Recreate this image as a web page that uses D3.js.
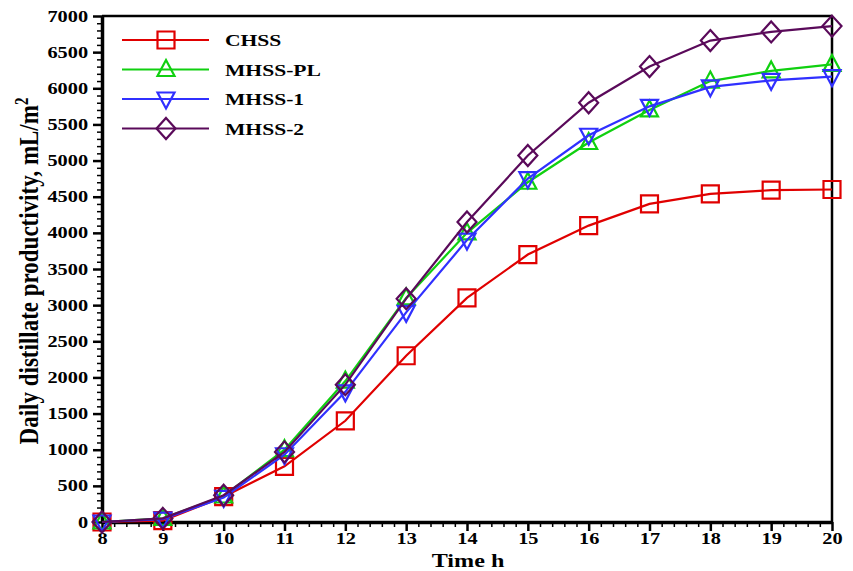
<!DOCTYPE html>
<html><head><meta charset="utf-8">
<script src="https://cdn.jsdelivr.net/npm/d3@7"></script>
<style>body{margin:0;background:#fff}svg{display:block}text{font-family:"Liberation Serif","Times New Roman",serif;font-weight:bold}</style>
</head><body><svg id="c" width="853" height="571"></svg>
<script>
const hours = [8,9,10,11,12,13,14,15,16,17,18,19,20];
const chss   = [0,20,350,770,1400,2300,3100,3700,4100,4400,4540,4590,4600];
const mhssPL = [0,50,360,1000,1950,3100,4000,4700,5250,5700,6100,6240,6330];
const mhss1  = [0,40,340,930,1800,2900,3900,4750,5350,5750,6020,6110,6160];
const mhss2  = [0,50,370,970,1900,3090,4150,5070,5800,6300,6660,6780,6860];
const seriesNames = ["CHSS","MHSS-PL","MHSS-1","MHSS-2"];
const seriesColors = ["#e00000","#10d010","#3030ff","#5a0a5a"];
const seriesShapes = ["square","triangle","invtriangle","diamond"];
const xTicks = [8,9,10,11,12,13,14,15,16,17,18,19,20];
const yTicks = [0,500,1000,1500,2000,2500,3000,3500,4000,4500,5000,5500,6000,6500,7000];

const series = [chss, mhssPL, mhss1, mhss2].map((v,i)=>({name:seriesNames[i],color:seriesColors[i],shape:seriesShapes[i],values:v}));
const svg = d3.select("#c");
const L=102,R=832,T=16,B=522;
const SX = 1.27;
const x = d3.scaleLinear().domain([8,20]).range([L,R]);
const y = d3.scaleLinear().domain([0,7000]).range([B,T]);

// minor ticks
const xMinor = d3.range(8,20.001,0.2).filter(v=>Math.abs(v-Math.round(v))>1e-6);
const yMinor = d3.range(0,7000.1,100).filter(v=>v%500!==0);
svg.append("g").attr("transform",`translate(0,${B})`)
  .call(d3.axisBottom(x).tickValues(xMinor).tickSize(5).tickFormat(""))
  .call(g=>g.select(".domain").remove()).selectAll("line").attr("stroke","#000").attr("stroke-width",1.5);
svg.append("g").attr("transform",`translate(${L},0)`)
  .call(d3.axisLeft(y).tickValues(yMinor).tickSize(5).tickFormat(""))
  .call(g=>g.select(".domain").remove()).selectAll("line").attr("stroke","#000").attr("stroke-width",1.5);

// major axes
const xa = svg.append("g").attr("transform",`translate(0,${B})`)
  .call(d3.axisBottom(x).tickValues(xTicks).tickSize(9).tickSizeOuter(0).tickFormat(d3.format("d")));
const ya = svg.append("g").attr("transform",`translate(${L},0)`)
  .call(d3.axisLeft(y).tickValues(yTicks).tickSize(9).tickSizeOuter(0).tickFormat(d3.format("d")));
[xa,ya].forEach(a=>{
  a.selectAll("line").attr("stroke","#000").attr("stroke-width",2.5);
  a.select(".domain").attr("stroke","#000").attr("stroke-width",3.5);
  a.selectAll("text").attr("font-size",16).attr("fill","#000").attr("font-family",'"Liberation Serif",serif').attr("font-weight","bold")
    .attr("transform",`scale(${SX},1)`);
});
xa.selectAll("text").attr("y",11).attr("dy","0.7em");
ya.selectAll("text").attr("x",-11);

// frame top/right
svg.append("line").attr("x1",L).attr("x2",R).attr("y1",T).attr("y2",T).attr("stroke","#000").attr("stroke-width",2.5);
svg.append("line").attr("x1",R).attr("x2",R).attr("y1",T).attr("y2",B).attr("stroke","#000").attr("stroke-width",2.5);

function marker(g, shape, cx, cy, color){
  const s=8.5;
  let p;
  if(shape==="square") p=`M${cx-s},${cy-s}H${cx+s}V${cy+s}H${cx-s}Z`;
  else if(shape==="triangle") p=`M${cx},${cy-s-1}L${cx+s},${cy+s-2}L${cx-s},${cy+s-2}Z`;
  else if(shape==="invtriangle") p=`M${cx},${cy+s+1}L${cx+s},${cy-s+2}L${cx-s},${cy-s+2}Z`;
  else p=`M${cx},${cy-s-2}L${cx+s+1},${cy}L${cx},${cy+s+2}L${cx-s-1},${cy}Z`;
  g.append("path").attr("d",p).attr("fill","none").attr("stroke",color).attr("stroke-width",2.2);
}

const line = d3.line().x((d,i)=>x(hours[i])).y(d=>y(d));
series.forEach(s=>{
  const g = svg.append("g");
  g.append("path").attr("d",line(s.values)).attr("fill","none").attr("stroke",s.color).attr("stroke-width",2.2);
  s.values.forEach((v,i)=>marker(g,s.shape,x(hours[i]),y(v),s.color));
});

// legend
series.forEach((s,i)=>{
  const ly = 40 + i*29.5;
  const g = svg.append("g");
  g.append("line").attr("x1",122).attr("x2",209).attr("y1",ly).attr("y2",ly).attr("stroke",s.color).attr("stroke-width",2.2);
  marker(g,s.shape,166,ly,s.color);
  g.append("text").attr("transform",`translate(225,${ly+6}) scale(${SX},1)`).attr("font-size",17).attr("fill","#000").text(s.name);
});

// axis titles
svg.append("text").attr("transform",`translate(468,567) scale(${SX},1)`).attr("text-anchor","middle").attr("font-size",19).text("Time h");
svg.append("text").attr("transform",`translate(38,271) scale(1.2,1) rotate(-90)`).attr("text-anchor","middle").attr("font-size",23)
  .text("Daily distillate productivity, mL/m").append("tspan").attr("dy","-8").attr("font-size",15).text("2");
</script></body></html>
